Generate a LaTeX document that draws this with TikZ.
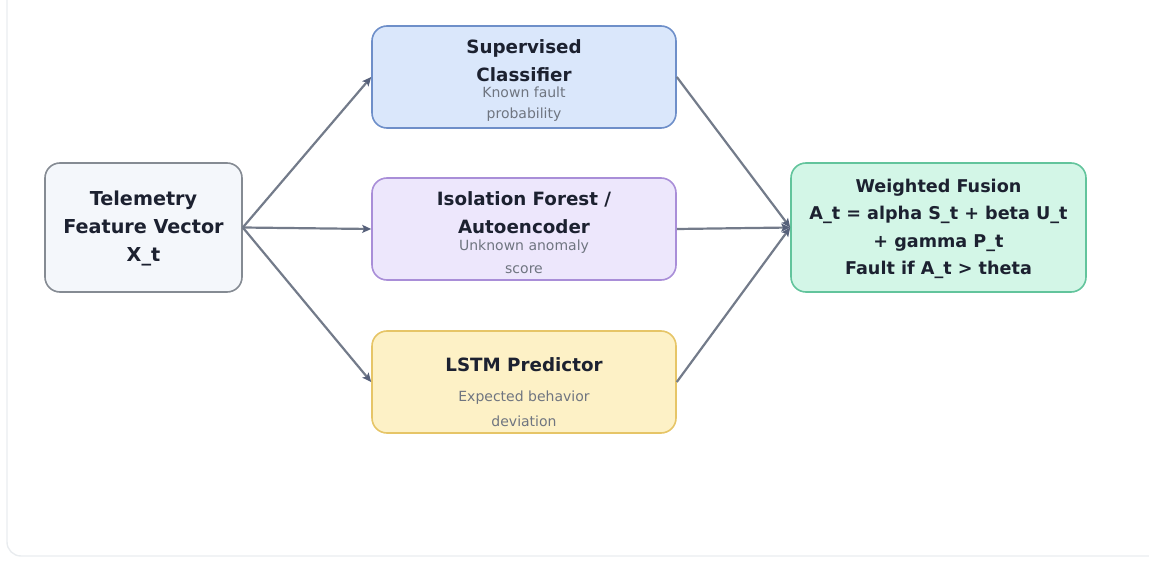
\documentclass[tikz,border=0pt]{standalone}
\usepackage{fontspec}
\setmainfont{DejaVu Sans}
\usetikzlibrary{arrows.meta}

\definecolor{edgecol}{HTML}{737B8A}
\definecolor{tipcol}{HTML}{56607A}
\definecolor{titlecol}{HTML}{1C2130}
\definecolor{subcol}{HTML}{6F7580}
\definecolor{telfill}{HTML}{F4F7FB}
\definecolor{teldraw}{HTML}{858B93}
\definecolor{supfill}{HTML}{DAE7FB}
\definecolor{supdraw}{HTML}{6E8FC9}
\definecolor{isofill}{HTML}{EDE7FC}
\definecolor{isodraw}{HTML}{A98ED8}
\definecolor{lstmfill}{HTML}{FDF1C6}
\definecolor{lstmdraw}{HTML}{E6C567}
\definecolor{fusfill}{HTML}{D3F6E7}
\definecolor{fusdraw}{HTML}{62C49C}
\definecolor{cardcol}{HTML}{E9ECEF}

\tikzset{
  box/.style={draw, rounded corners=15pt, line width=1.6pt, inner sep=0pt},
  mainbox/.style={box, minimum width=304pt, minimum height=102pt},
  titletext/.style={align=center, text=titlecol, inner sep=0pt,
    font=\fontsize{18.3}{29}\selectfont\bfseries},
  subtext/.style={align=center, text=subcol, inner sep=0pt,
    font=\fontsize{14}{22.5}\selectfont},
  flow/.style={draw=edgecol, line width=2.2pt,
    -{Stealth[length=9pt, width=8pt, inset=2pt, color=tipcol, fill=tipcol]}},
}

\begin{document}
\begin{tikzpicture}[x=1pt, y=-1pt]
\useasboundingbox (0,0) rectangle (1149,561);

% outer card
\draw[cardcol, line width=1.4pt, rounded corners=14pt] (7,-30) rectangle (1180,556);

% input
\node[box, fill=telfill, draw=teldraw, minimum width=197pt, minimum height=129pt]
  (tel) at (143.5,227.5) {};
\node[titletext, font=\fontsize{19.2}{28}\selectfont\bfseries] (telT) at (143.5,228)
  {Telemetry\\Feature Vector\\X\_t};

% detectors
\node[mainbox, fill=supfill, draw=supdraw] (sup) at (524,77) {};
\node[titletext, font=\fontsize{18.3}{28}\selectfont\bfseries] (supT) at (524,60.5) {Supervised\\Classifier};
\node[subtext, font=\fontsize{14}{21}\selectfont] (supS) at (524,104.5) {Known fault\\probability};

\node[mainbox, fill=isofill, draw=isodraw] (iso) at (524,229) {};
\node[titletext, font=\fontsize{18.3}{28.5}\selectfont\bfseries] (isoT) at (524,212.5) {Isolation Forest /\\Autoencoder};
\node[subtext, font=\fontsize{14}{23.5}\selectfont] (isoS) at (524,257) {Unknown anomaly\\score};

\node[mainbox, fill=lstmfill, draw=lstmdraw] (lstm) at (524,382) {};
\node[titletext] (lstmT) at (524,365) {LSTM Predictor};
\node[subtext, font=\fontsize{14}{25}\selectfont] (lstmS) at (524,408.5) {Expected behavior\\deviation};

% fusion
\node[box, fill=fusfill, draw=fusdraw, minimum width=295pt, minimum height=129pt]
  (fus) at (938.5,227.5) {};
\node[titletext, font=\fontsize{17.6}{27.3}\selectfont\bfseries] (fusT) at (938.5,229)
  {Weighted Fusion\\A\_t = alpha S\_t + beta U\_t\\+ gamma P\_t\\Fault if A\_t > theta};

% connectors
\draw[flow] (tel.east) -- (sup.west);
\draw[flow] (tel.east) -- (iso.west);
\draw[flow] (tel.east) -- (lstm.west);
\draw[flow] (sup.east) -- (fus.west);
\draw[flow] (iso.east) -- (fus.west);
\draw[flow] (lstm.east) -- (fus.west);
\end{tikzpicture}
\end{document}
